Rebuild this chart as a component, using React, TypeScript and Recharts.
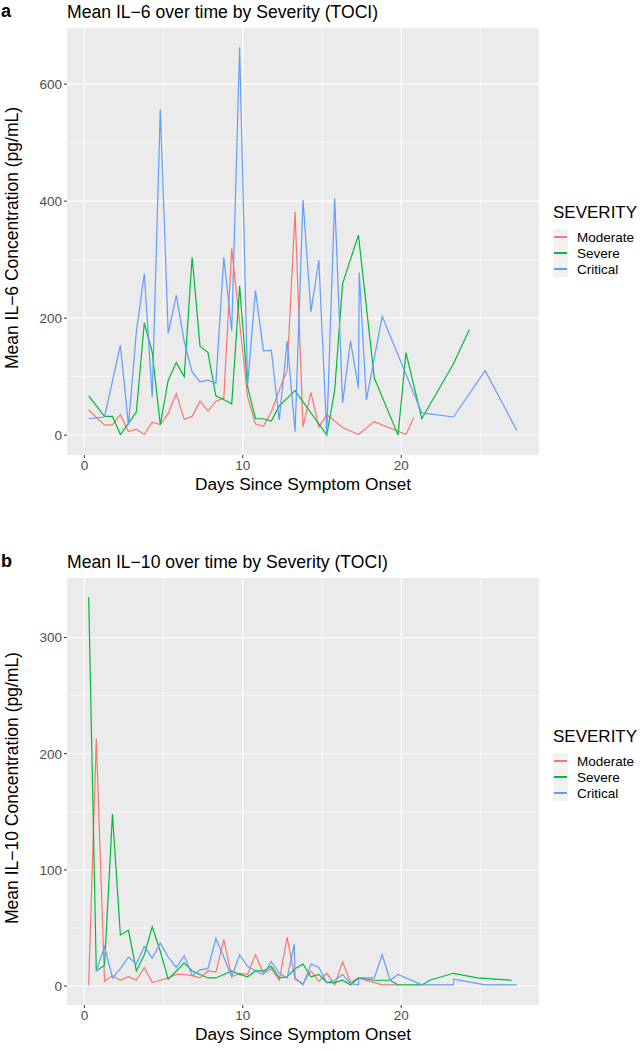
import { CartesianGrid, Line, LineChart, XAxis, YAxis } from 'recharts';

// IL-6 panel (a)
const il6ModerateDays = [0.27, 1.27, 1.77, 2.27, 2.78, 3.28, 3.78, 4.28, 4.79, 5.29, 5.8, 6.3, 6.8, 7.3, 7.8, 8.3, 8.8, 9.3, 10.3, 10.8, 11.3, 11.8, 12.3, 12.8, 13.3, 13.8, 14.3, 14.8, 15.3, 16.3, 17.3, 18.3, 20.3, 20.8];
const il6ModerateValues = [43, 17, 18, 35, 6, 10, 1, 22, 18, 37, 71, 27, 32, 58, 41, 58, 63, 319, 66, 19, 15, 40, 77, 111, 382, 14, 73, 14, 35, 13, 1, 23, 1, 30];
const il6SevereDays = [0.27, 1.27, 1.77, 2.27, 2.78, 3.28, 3.78, 4.28, 4.79, 5.29, 5.8, 6.3, 6.8, 7.3, 7.8, 8.3, 8.8, 9.3, 9.8, 10.3, 10.8, 11.3, 11.8, 12.3, 13.3, 15.3, 15.8, 16.3, 17.3, 18.3, 19.8, 20.3, 21.3, 23.3, 24.3];
const il6SevereValues = [67, 32, 32, 1, 20, 40, 192, 142, 18, 94, 124, 100, 304, 152, 141, 67, 61, 53, 255, 83, 28, 28, 24, 50, 76, 0, 76, 259, 342, 98, 0, 141, 28, 122, 180];
const il6CriticalDays = [0.27, 1.27, 2.27, 2.78, 3.28, 3.78, 4.28, 4.79, 5.29, 5.8, 6.3, 6.8, 7.3, 7.8, 8.3, 8.8, 9.3, 9.8, 10.3, 10.8, 11.3, 11.8, 12.3, 12.8, 13.3, 13.8, 14.3, 14.8, 15.3, 15.8, 16.3, 16.8, 17.3, 17.35, 17.8, 18.8, 21.3, 23.3, 25.3, 27.3];
const il6CriticalValues = [28, 31, 154, 17, 177, 276, 65, 557, 174, 239, 160, 108, 91, 94, 89, 304, 178, 663, 85, 247, 144, 145, 26, 161, 6, 402, 211, 299, 3, 405, 55, 161, 80, 278, 60, 203, 38, 31, 110, 8];

// IL-10 panel (b)
const il10ModerateDays = [0.27, 0.75, 1.27, 1.77, 2.27, 2.78, 3.28, 3.78, 4.28, 4.79, 5.29, 5.8, 6.3, 6.8, 7.3, 7.8, 8.3, 8.8, 9.3, 9.8, 10.3, 10.8, 11.3, 11.8, 12.3, 12.8, 13.3, 13.8, 14.3, 14.8, 15.3, 15.8, 16.3, 16.8, 17.3, 18.8, 19.8];
const il10ModerateValues = [1, 213, 4, 9, 5, 8, 5, 16, 3, 5, 7, 10, 10, 9, 7, 13, 12, 40, 8, 11, 10, 27, 11, 15, 5, 42, 6, 2, 13, 4, 11, 1, 21, 3, 7, 1, 1];
const il10SevereDays = [0.27, 0.75, 1.27, 1.77, 2.27, 2.78, 3.28, 3.78, 4.28, 4.79, 5.29, 5.8, 6.3, 6.8, 7.3, 7.8, 8.3, 8.8, 9.3, 9.8, 10.3, 10.8, 11.3, 11.8, 12.3, 12.8, 13.3, 13.8, 14.3, 14.8, 15.3, 15.8, 16.3, 16.8, 17.3, 18.3, 19.3, 19.8, 21.3, 21.8, 23.3, 24.8, 27.0];
const il10SevereValues = [335, 13, 18, 148, 44, 48, 13, 27, 51, 30, 6, 13, 20, 13, 10, 7, 7, 10, 13, 10, 8, 13, 13, 17, 7, 8, 15, 19, 8, 10, 3, 3, 5, 1, 7, 5, 5, 1, 1, 5, 11, 7, 5];
const il10CriticalDays = [0.75, 1.27, 1.77, 2.27, 2.78, 3.28, 3.78, 4.28, 4.79, 5.29, 5.8, 6.3, 6.8, 7.3, 7.8, 8.3, 8.8, 9.3, 9.8, 10.3, 10.8, 11.3, 11.8, 12.3, 12.8, 13.25, 13.3, 13.8, 14.3, 14.8, 15.3, 15.8, 16.3, 16.8, 17.3, 17.32, 18.3, 18.8, 19.3, 19.8, 21.3, 23.3, 23.32, 25.3, 27.3];
const il10CriticalValues = [13, 34, 7, 15, 25, 19, 34, 24, 37, 25, 16, 26, 9, 14, 15, 41, 25, 8, 27, 17, 13, 10, 21, 11, 7, 36, 7, 1, 19, 16, 3, 5, 10, 2, 1, 7, 7, 27, 5, 10, 1, 1, 6, 1, 1];

const severities = ['Moderate', 'Severe', 'Critical'];
const colors = ['#F8766D', '#00BA38', '#619CFF'];

const xTicks = [0, 10, 20];
const xMinor = [5, 15, 25];
const il6Ticks = [0, 200, 400, 600];
const il6Minor = [100, 300, 500];
const il10Ticks = [0, 100, 200, 300];
const il10Minor = [50, 150, 250];

const font = '"Liberation Sans", Arial, Helvetica, sans-serif';

const toPoints = (days: number[], values: number[]) => days.map((d, i) => ({ day: d, value: values[i] }));

type PanelProps = {
  top: number;
  letter: string;
  title: string;
  yTitle: string;
  series: { day: number; value: number }[][];
  yDomain: [number, number];
  yTicks: number[];
  yMinor: number[];
  legendTop: number;
};

function Panel({ top, letter, title, yTitle, series, yDomain, yTicks, yMinor, legendTop }: PanelProps) {
  const plotTop = 28;
  const plotBottom = 455;
  const plotMid = top + (plotTop + plotBottom) / 2;
  return (
    <>
      <div style={{ position: 'absolute', left: 1, top: top + 1, fontSize: 18, fontWeight: 'bold' }}>{letter}</div>
      <div style={{ position: 'absolute', left: 67, top: top + 2, fontSize: 17.6, whiteSpace: 'nowrap' }}>{title}</div>
      <div
        style={{
          position: 'absolute',
          left: 12,
          top: plotMid - 4,
          fontSize: 17.5,
          whiteSpace: 'nowrap',
          transform: 'translate(-50%, -50%) rotate(-90deg)',
        }}
      >
        {yTitle}
      </div>
      <div
        style={{
          position: 'absolute',
          left: 303,
          top: top + 484,
          fontSize: 17.3,
          whiteSpace: 'nowrap',
          transform: 'translate(-50%, -50%)',
        }}
      >
        Days Since Symptom Onset
      </div>
      <div style={{ position: 'absolute', left: 0, top }}>
        <LineChart width={545} height={500} margin={{ top: plotTop, right: 6, left: 0, bottom: 0 }}>
          <CartesianGrid fill="#EBEBEB" stroke="#FFFFFF" strokeWidth={0.6} horizontalValues={yMinor} verticalValues={xMinor} />
          <CartesianGrid fill="none" stroke="#FFFFFF" strokeWidth={1.2} horizontalValues={yTicks} verticalValues={xTicks} />
          <XAxis
            type="number"
            dataKey="day"
            domain={[-1.1, 28.7]}
            ticks={xTicks}
            allowDataOverflow
            height={45}
            axisLine={false}
            tickSize={3}
            tickLine={{ stroke: '#333333' }}
            tick={{ fill: '#4D4D4D', fontSize: 13.5, fontFamily: font }}
          />
          <YAxis
            type="number"
            dataKey="value"
            domain={yDomain}
            ticks={yTicks}
            allowDataOverflow
            width={67}
            axisLine={false}
            tickSize={3}
            tickLine={{ stroke: '#333333' }}
            tick={{ fill: '#4D4D4D', fontSize: 13.5, fontFamily: font }}
          />
          {series.map((data, i) => (
            <Line
              key={severities[i]}
              data={data}
              dataKey="value"
              type="linear"
              stroke={colors[i]}
              strokeWidth={1.2}
              dot={false}
              activeDot={false}
              isAnimationActive={false}
            />
          ))}
        </LineChart>
      </div>
      <div style={{ position: 'absolute', left: 553, top: top + legendTop }}>
        <div style={{ fontSize: 17, lineHeight: '20px', marginBottom: 6 }}>SEVERITY</div>
        {severities.map((s, i) => (
          <div key={s} style={{ display: 'flex', alignItems: 'center', height: 16 }}>
            <div style={{ width: 15, height: 16, background: '#F2F2F2', position: 'relative' }}>
              <div style={{ position: 'absolute', left: 1, right: 1, top: 7, height: 1.5, background: colors[i] }} />
            </div>
            <span style={{ fontSize: 13.5, marginLeft: 9 }}>{s}</span>
          </div>
        ))}
      </div>
    </>
  );
}

export default function App() {
  return (
    <div style={{ position: 'absolute', left: 0, top: 0, width: 642, height: 1051, background: '#FFFFFF', fontFamily: font, color: '#000' }}>
      <Panel
        top={0}
        letter="a"
        title="Mean IL−6 over time by Severity (TOCI)"
        yTitle="Mean IL−6 Concentration (pg/mL)"
        series={[
          toPoints(il6ModerateDays, il6ModerateValues),
          toPoints(il6SevereDays, il6SevereValues),
          toPoints(il6CriticalDays, il6CriticalValues),
        ]}
        yDomain={[-34, 696]}
        yTicks={il6Ticks}
        yMinor={il6Minor}
        legendTop={203}
      />
      <Panel
        top={550}
        letter="b"
        title="Mean IL−10 over time by Severity (TOCI)"
        yTitle="Mean IL−10 Concentration (pg/mL)"
        series={[
          toPoints(il10ModerateDays, il10ModerateValues),
          toPoints(il10SevereDays, il10SevereValues),
          toPoints(il10CriticalDays, il10CriticalValues),
        ]}
        yDomain={[-16.3, 351.3]}
        yTicks={il10Ticks}
        yMinor={il10Minor}
        legendTop={177}
      />
    </div>
  );
}
